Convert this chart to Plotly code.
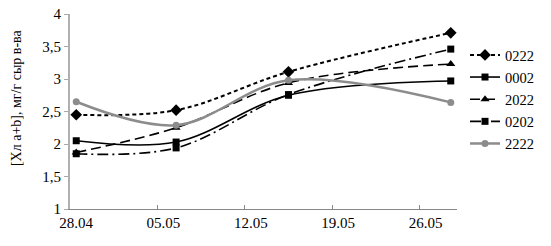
import pandas as pd
import plotly.graph_objects as go

dates = ["2024-04-28", "2024-05-06", "2024-05-15", "2024-05-28"]
s_0222 = [2.45, 2.52, 3.11, 3.71]
s_0002 = [2.05, 2.03, 2.75, 2.97]
s_2022 = [1.87, 2.25, 2.94, 3.23]
s_0202 = [1.85, 1.94, 2.76, 3.46]
s_2222 = [2.65, 2.29, 2.98, 2.64]
names = ["0222", "0002", "2022", "0202", "2222"]
y_title = "[Хл a+b], мг/г сыр в-ва"

# Excel date axis "between tick marks": each day is plotted at the middle of its slot
x = pd.to_datetime(dates) + pd.Timedelta(hours=12)

styles = [
    dict(color="black", width=2, dash="4px,3px", symbol="diamond", size=9),
    dict(color="black", width=1.6, dash="solid", symbol="square", size=7),
    dict(color="black", width=1.6, dash="10px,5px", symbol="triangle-up", size=8),
    dict(color="black", width=1.6, dash="11px,4px,2px,4px", symbol="square", size=7),
    dict(color="#8c8c8c", width=2.5, dash="solid", symbol="circle", size=7),
]
series = [s_0222, s_0002, s_2022, s_0202, s_2222]

fig = go.Figure()
for name, ys, st in zip(names, series, styles):
    fig.add_trace(go.Scatter(
        x=x, y=ys, name=name, mode="lines+markers",
        line=dict(color=st["color"], width=st["width"], dash=st["dash"], shape="spline"),
        marker=dict(symbol=st["symbol"], size=st["size"], color=st["color"]),
        legendgroup=name,
    ))

FAM = "Liberation Serif"
font = dict(family=FAM, size=15, color="black")
fig.update_layout(
    width=551, height=246,
    margin=dict(l=70, r=94, t=14, b=37, autoexpand=False),
    plot_bgcolor="white", paper_bgcolor="white",
    font=font,
    separators=", ",
    showlegend=True,
    legend=dict(x=1.0207, y=0.872, xanchor="left", yanchor="top",
                font=dict(family=FAM, size=14.5, color="black"),
                tracegroupgap=0.3, bgcolor="rgba(0,0,0,0)"),
    xaxis=dict(
        type="date", range=["2024-04-28", "2024-05-29"],
        tick0="2024-04-28", dtick=7 * 86400000, tickformat="%d.%m",
        ticks="inside", ticklen=4, tickcolor="#888888",
        showline=True, linecolor="#888888", linewidth=1,
        showgrid=False, zeroline=False, ticklabelshift=6, automargin=False,
    ),
    yaxis=dict(
        range=[1, 4], dtick=0.5, tick0=1,
        ticks="outside", ticklen=4, tickcolor="#aaaaaa",
        showline=True, linecolor="#b0b0b0", linewidth=2,
        showgrid=False, zeroline=False, automargin=False,
        ticklabeloverflow="allow",
    ),
    annotations=[dict(
        text=y_title, textangle=-90, xref="paper", yref="paper",
        x=-0.1395, y=0.569, xanchor="center", yanchor="middle",
        showarrow=False, font=dict(family=FAM, size=14, color="black"),
    )],
)
fig.write_html("out.html", config={"displayModeBar": False},
               post_script="document.body.style.margin='0';")
